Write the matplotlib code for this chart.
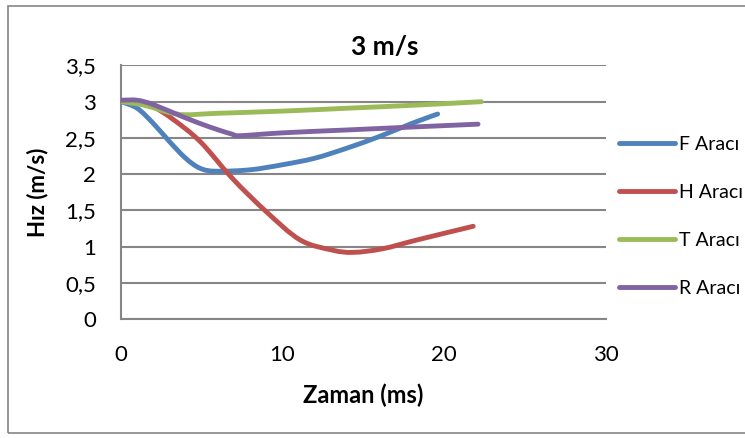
import matplotlib
matplotlib.use("Agg")
import matplotlib.pyplot as plt
from matplotlib.patches import Rectangle, PathPatch
from matplotlib.path import Path
from matplotlib.lines import Line2D

# values (time in ms, speed in m/s)
f_x = [0, 1, 2, 3, 4, 4.9, 5.9, 8, 10, 12, 14, 16, 18, 19.6]
f_y = [3.0, 2.91, 2.70, 2.45, 2.22, 2.08, 2.04, 2.06, 2.13, 2.22, 2.36, 2.52, 2.70, 2.83]

h_x = [0, 1, 2, 3.2, 4.9, 6.9, 9, 11.1, 13.1, 14.4, 16.2, 18.3, 21.8]
h_y = [3.0, 3.0, 2.93, 2.76, 2.45, 1.94, 1.48, 1.09, 0.95, 0.92, 0.97, 1.09, 1.28]

t_x = [0, 1, 1.8, 3, 4, 6, 10, 14, 18, 22.3]
t_y = [3.0, 2.97, 2.93, 2.85, 2.82, 2.84, 2.87, 2.91, 2.95, 3.0]

r_x = [0, 1, 2, 3.85, 5.5, 6.9, 7.3, 10, 14, 18, 22.1]
r_y = [3.02, 3.02, 2.96, 2.79, 2.65, 2.55, 2.53, 2.57, 2.61, 2.65, 2.69]

labels = ["F Aracı", "H Aracı", "T Aracı", "R Aracı"]
colors = ["#4F81BD", "#C0504D", "#9BBB59", "#8064A2"]

x_ticks = [0, 10, 20, 30]
y_ticks = [0, 0.5, 1, 1.5, 2, 2.5, 3, 3.5]
y_tick_labels = ["0", "0,5", "1", "1,5", "2", "2,5", "3", "3,5"]


def smooth_path(xs, ys):
    # excel style smoothed line: bezier segments through every point
    pts = list(zip(xs, ys))
    verts = [pts[0]]
    codes = [Path.MOVETO]
    for i in range(len(pts) - 1):
        p0 = pts[i - 1] if i > 0 else pts[i]
        p1 = pts[i]
        p2 = pts[i + 1]
        p3 = pts[i + 2] if i + 2 < len(pts) else p2
        c1 = (p1[0] + (p2[0] - p0[0]) / 6, p1[1] + (p2[1] - p0[1]) / 6)
        c2 = (p2[0] - (p3[0] - p1[0]) / 6, p2[1] - (p3[1] - p1[1]) / 6)
        verts += [c1, c2, p2]
        codes += [Path.CURVE4] * 3
    return Path(verts, codes)


plt.rcParams['font.family'] = ['Lato', 'DejaVu Sans']

fig = plt.figure(figsize=(7.45, 4.38), dpi=100)
ax = fig.add_axes([0.1624, 0.2717, 0.6506, 0.5788])

series = [(f_x, f_y), (h_x, h_y), (t_x, t_y), (r_x, r_y)]
handles = []
for (xs, ys), lab, col in zip(series, labels, colors):
    ax.add_patch(PathPatch(smooth_path(xs, ys), facecolor="none", edgecolor=col,
                           lw=3.5, capstyle="round", joinstyle="round", zorder=3))
    handles.append(Line2D([], [], color=col, lw=3.5, solid_capstyle="round"))

ax.set_xlim(0, 30)
ax.set_ylim(0, 3.5)
ax.set_xticks(x_ticks)
ax.set_yticks(y_ticks)
ax.set_yticklabels(y_tick_labels)
ax.tick_params(length=0, labelsize=16)
ax.tick_params(axis="y", pad=18)
ax.tick_params(axis="x", pad=19)
ax.grid(axis="y", color="#868686", lw=1.5)
ax.set_axisbelow(True)
for s in ["top", "right"]:
    ax.spines[s].set_visible(False)
for s in ["left", "bottom"]:
    ax.spines[s].set_color("#868686")
    ax.spines[s].set_linewidth(1.5)

fig.text(0.517, 0.893, "3 m/s", ha="center", va="center", fontsize=19,
         fontweight="bold")
fig.text(0.487, 0.098, "Zaman (ms)", ha="center", va="center", fontsize=17,
         fontweight="bold")
fig.text(0.051, 0.5616, "Hız (m/s)", ha="center", va="center", fontsize=16,
         fontweight="bold", rotation=90)

ax.legend(handles, labels, loc="upper left", bbox_to_anchor=(0.831, 0.690),
          bbox_transform=fig.transFigure, frameon=False, fontsize=14,
          handlelength=2.9, handletextpad=0.2, labelspacing=1.6,
          borderpad=0, borderaxespad=0)

fig.patches.append(Rectangle((0.011, 0.011), 0.995, 0.975,
                             transform=fig.transFigure, fill=False,
                             edgecolor="#868686", lw=1.2))

fig.savefig("out.png", dpi=100)
